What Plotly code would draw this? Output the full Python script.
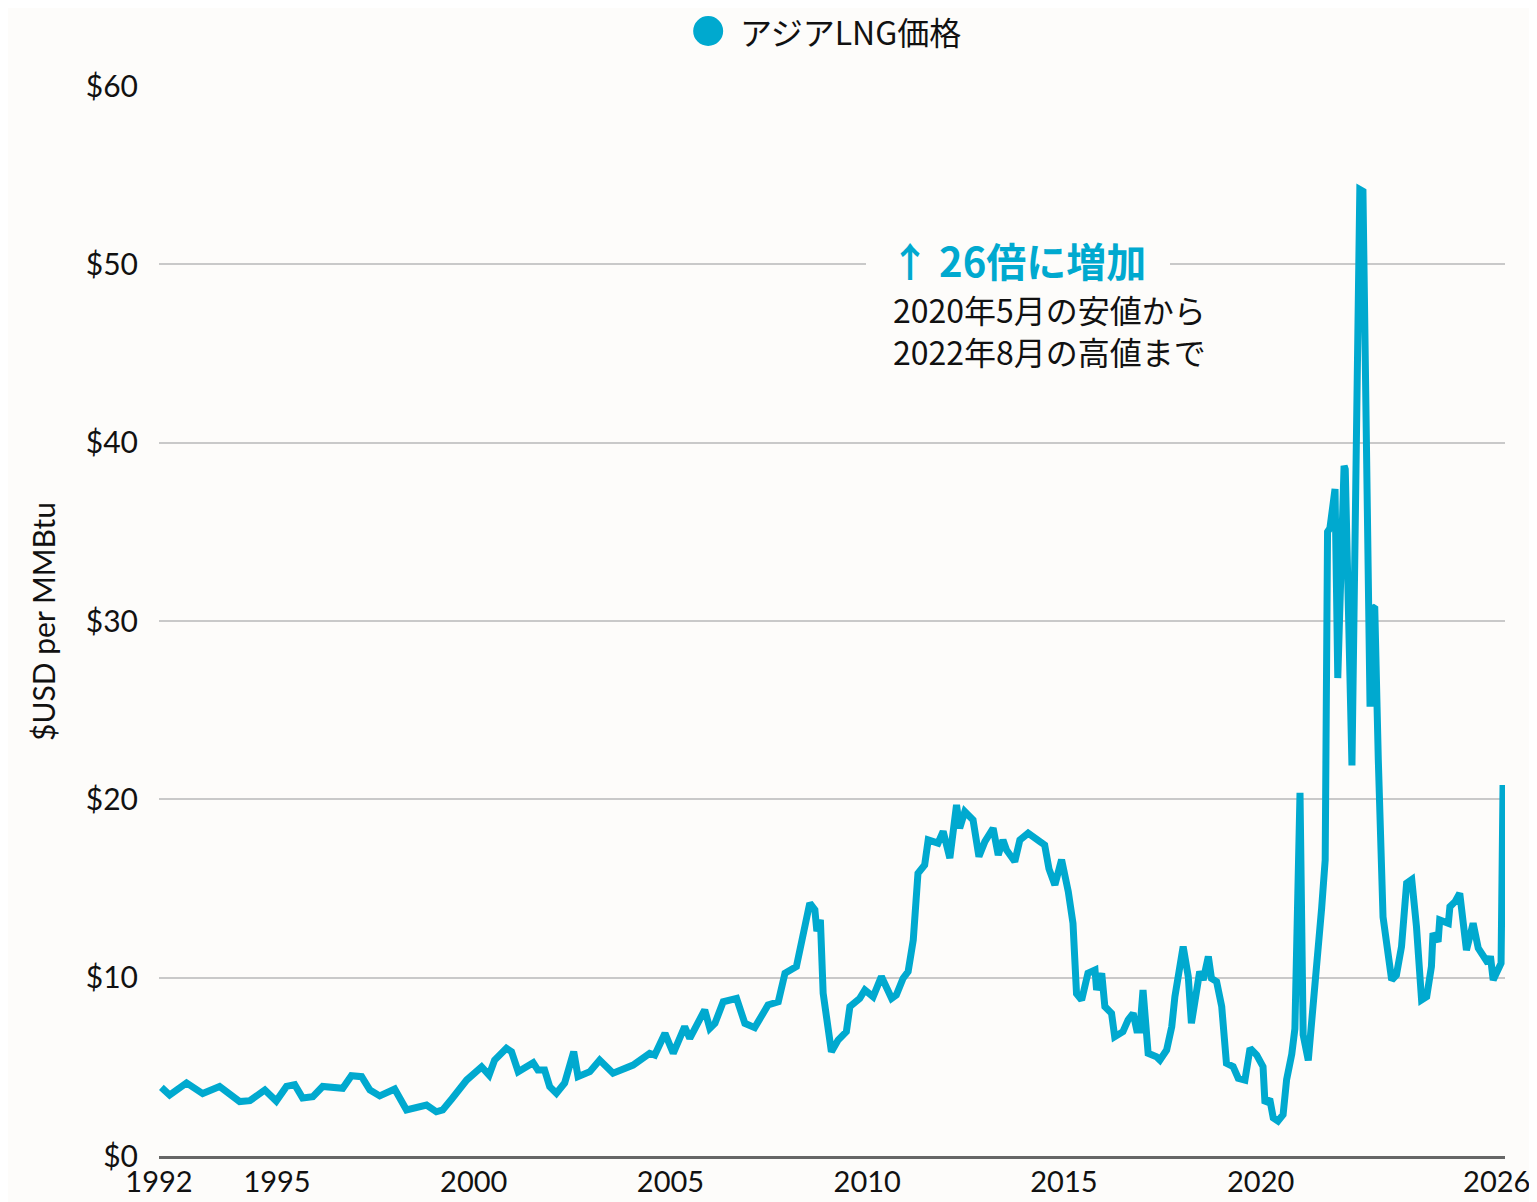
import plotly.graph_objects as go

# ---------- data ----------
years = [
    1992.06, 1992.27, 1992.70, 1993.11, 1993.54, 1994.05, 1994.31, 1994.69, 1994.98, 1995.24,
    1995.45, 1995.65, 1995.91, 1996.16, 1996.67, 1996.89, 1997.15, 1997.36, 1997.61, 1997.99,
    1998.29, 1998.80, 1999.05, 1999.21, 1999.44, 1999.82, 2000.20, 2000.39, 2000.53, 2000.83,
    2000.96, 2001.13, 2001.51, 2001.63, 2001.80, 2001.93, 2002.10, 2002.31, 2002.54, 2002.65,
    2002.95, 2003.20, 2003.54, 2003.80, 2004.05, 2004.47, 2004.60, 2004.86, 2005.07, 2005.36,
    2005.49, 2005.87, 2006.00, 2006.13, 2006.34, 2006.68, 2006.89, 2007.14, 2007.48, 2007.74,
    2007.91, 2008.20, 2008.54, 2008.67, 2008.72, 2008.81, 2008.88, 2009.09, 2009.26, 2009.47,
    2009.56, 2009.81, 2009.94, 2010.15, 2010.36, 2010.62, 2010.74, 2010.91, 2011.04, 2011.17,
    2011.29, 2011.46, 2011.55, 2011.80, 2011.93, 2012.10, 2012.27, 2012.35, 2012.48, 2012.69,
    2012.84, 2012.99, 2013.20, 2013.33, 2013.45, 2013.54, 2013.75, 2013.88, 2014.09, 2014.39,
    2014.51, 2014.62, 2014.77, 2014.94, 2015.11, 2015.23, 2015.32, 2015.45, 2015.61, 2015.79,
    2015.83, 2015.96, 2016.04, 2016.21, 2016.29, 2016.50, 2016.63, 2016.76, 2016.85, 2016.93,
    2017.01, 2017.14, 2017.35, 2017.44, 2017.61, 2017.74, 2017.82, 2018.03, 2018.16, 2018.24,
    2018.45, 2018.54, 2018.67, 2018.75, 2018.88, 2019.01, 2019.13, 2019.30, 2019.43, 2019.60,
    2019.73, 2019.90, 2020.06, 2020.11, 2020.23, 2020.32, 2020.44, 2020.57, 2020.66, 2020.79,
    2020.87, 2021.00, 2021.08, 2021.21, 2021.33, 2021.55, 2021.64, 2021.70, 2021.76, 2021.89,
    2021.96, 2022.12, 2022.15, 2022.32, 2022.52, 2022.60, 2022.78, 2022.83, 2022.90, 2022.99,
    2023.07, 2023.11, 2023.33, 2023.45, 2023.58, 2023.71, 2023.84, 2023.96, 2024.09, 2024.22,
    2024.34, 2024.38, 2024.51, 2024.55, 2024.77, 2024.81, 2024.94, 2025.06, 2025.23, 2025.40,
    2025.53, 2025.70, 2025.78, 2025.84, 2025.91, 2026.11, 2026.16,
]
prices = [
    3.85, 3.42, 4.10, 3.50, 3.90, 3.05, 3.10, 3.70, 3.08, 3.90,
    4.00, 3.25, 3.33, 3.90, 3.80, 4.50, 4.45, 3.70, 3.37, 3.75,
    2.58, 2.86, 2.48, 2.58, 3.20, 4.26, 5.00, 4.54, 5.38, 6.04,
    5.85, 4.73, 5.23, 4.82, 4.82, 3.89, 3.52, 4.09, 5.85, 4.45,
    4.73, 5.38, 4.64, 4.92, 5.10, 5.76, 5.66, 6.88, 5.76, 7.25,
    6.60, 8.19, 7.16, 7.44, 8.65, 8.84, 7.44, 7.20, 8.47, 8.65,
    10.25, 10.62, 14.18, 13.80, 12.60, 13.24, 9.13, 5.85, 6.50, 6.97,
    8.38, 8.84, 9.31, 8.93, 10.06, 8.84, 9.03, 9.96, 10.34, 12.11,
    15.85, 16.32, 17.72, 17.54, 18.20, 16.70, 19.69, 18.38, 19.31, 18.84,
    16.79, 17.63, 18.38, 16.88, 17.72, 17.16, 16.51, 17.72, 18.10, 17.63,
    17.44, 16.10, 15.20, 16.62, 14.83, 13.05, 9.10, 8.75, 10.25, 10.43,
    9.31, 10.25, 8.38, 8.00, 6.69, 6.97, 7.63, 8.00, 7.07, 7.07,
    9.31, 5.76, 5.57, 5.38, 5.94, 7.25, 8.93, 11.74, 10.06, 7.44,
    10.34, 9.87, 11.18, 9.96, 9.78, 8.38, 5.20, 5.01, 4.36, 4.26,
    6.04, 5.66, 5.01, 2.96, 3.20, 2.14, 1.96, 2.32, 4.29, 5.71,
    7.14, 20.36, 6.79, 5.36, 8.20, 13.90, 16.60, 35.00, 35.20, 37.40,
    26.80, 38.70, 38.50, 21.90, 54.20, 54.10, 25.20, 30.80, 30.70, 22.20,
    16.00, 13.40, 9.87, 10.15, 11.74, 15.30, 15.50, 12.86, 8.75, 8.93,
    10.62, 12.49, 12.02, 13.24, 13.05, 13.98, 14.26, 14.73, 11.55, 13.05,
    11.65, 11.18, 10.81, 11.20, 9.87, 10.81, 20.80,
]

tick_years = [1992, 1995, 2000, 2005, 2010, 2015, 2020, 2026]
price_ticks = [0, 10, 20, 30, 40, 50, 60]
price_labels = ["$0", "$10", "$20", "$30", "$40", "$50", "$60"]

series_name = "アジアLNG価格"
callout_head = "↑ 26倍に増加"
callout_body = "2020年5月の安値から<br>2022年8月の高値まで"
y_title = "$USD per MMBtu"

# ---------- styling ----------
BLUE = "#00a9cf"
BG = "#fdfcfa"
GRID = "#c9c9c9"
INK = "#111111"
LATIN = "Lato, 'Noto Sans', sans-serif"
JP = "'Noto Sans CJK JP', 'Noto Sans', sans-serif"

fig = go.Figure()
fig.add_trace(go.Scatter(
    x=years, y=prices, mode="lines",
    line=dict(color=BLUE, width=7, shape="linear"),
    name=series_name, showlegend=False,
))

# legend swatch + label (drawn by hand so the dot can be large)
fig.add_shape(
    type="circle", xref="paper", yref="paper",
    xsizemode="pixel", ysizemode="pixel",
    xanchor=0.408, yanchor=1.0514,
    x0=-15, x1=15, y0=-15, y1=15,
    fillcolor=BLUE, line=dict(width=0),
)
fig.add_annotation(
    text=series_name, xref="paper", yref="paper", x=0.430, y=1.0514,
    xanchor="left", yanchor="middle", showarrow=False,
    font=dict(family=JP, size=32, color=INK),
)

# callout (background breaks the $50 gridline)
fig.add_annotation(
    text="<b>" + callout_head + "</b>", xref="paper", yref="paper",
    x=0.525, y=0.8374, xanchor="left", yanchor="middle", showarrow=False,
    font=dict(family=JP, size=40, color=BLUE),
    bgcolor=BG, borderpad=24, borderwidth=0,
)
fig.add_annotation(
    text=callout_body, xref="paper", yref="paper",
    x=0.544, y=0.772, xanchor="left", yanchor="middle", showarrow=False,
    align="left", font=dict(family=JP, size=32, color=INK),
)

# y axis title
fig.add_annotation(
    text=y_title, xref="paper", yref="paper", x=-0.0862, y=0.5,
    xanchor="center", yanchor="middle", textangle=-90, showarrow=False,
    font=dict(family=LATIN, size=30, color=INK),
)

# the page body adds an 8px offset, so the figure is 8px smaller
fig.update_layout(
    width=1529, height=1194,
    margin=dict(l=151, r=32, t=78, b=46, autoexpand=False),
    paper_bgcolor=BG, plot_bgcolor=BG,
    font=dict(family=LATIN, color=INK),
    showlegend=False,
)
fig.update_xaxes(
    range=[1992.0, 2026.21], tickvals=tick_years,
    ticktext=[str(t) for t in tick_years],
    showgrid=False, zeroline=False, automargin=False,
    showline=True, linecolor="#666666", linewidth=2.5,
    ticks="", ticklabelstandoff=-2,
    tickfont=dict(family=LATIN, size=29, color=INK),
)
fig.update_yaxes(
    range=[0, 60], tickvals=price_ticks, ticktext=price_labels,
    showgrid=True, gridcolor=GRID, gridwidth=1.5, zeroline=False,
    showline=False, ticks="", ticklabelstandoff=20, automargin=False,
    tickfont=dict(family=LATIN, size=30, color=INK),
)

fig.write_html("out.html")
